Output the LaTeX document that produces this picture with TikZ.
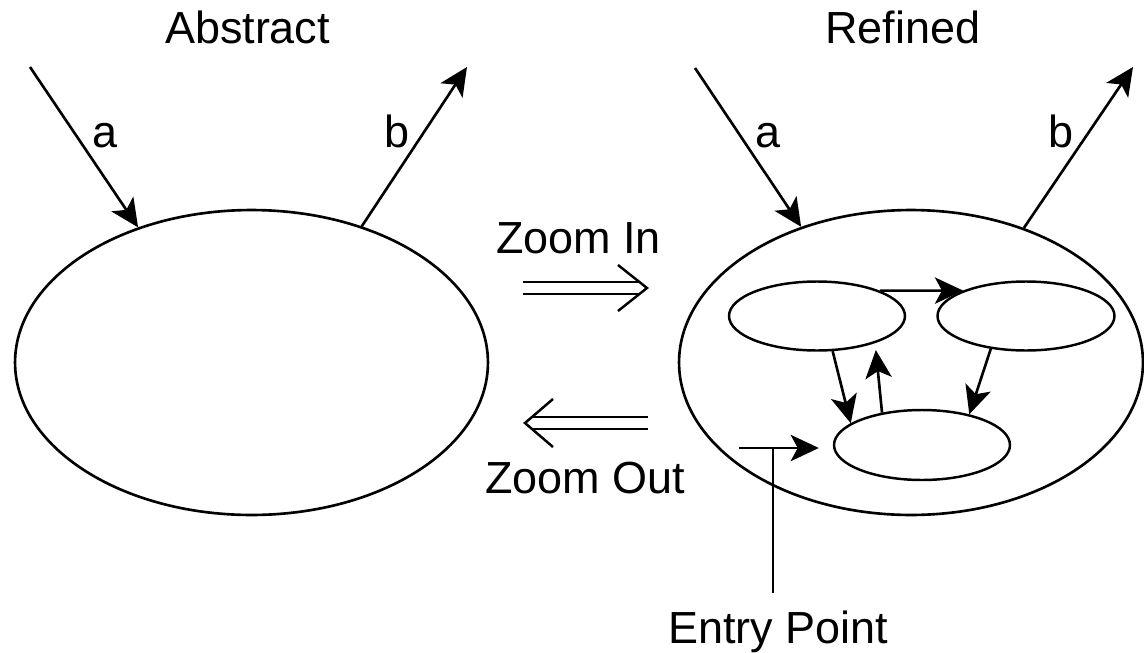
\documentclass[tikz,border=0pt]{standalone}
\usepackage{fontspec}
\setmainfont{Liberation Sans}
\usetikzlibrary{shapes.geometric,arrows.meta}
\begin{document}
\begin{tikzpicture}[x=0.02cm,y=-0.02cm,
  oval/.style={draw,ellipse,inner sep=0pt,line width=1.5pt},
  inoval/.style={draw,ellipse,inner sep=0pt,line width=1.4pt,minimum width=3.52cm,minimum height=1.38cm},
  lbl/.style={anchor=base,inner sep=0pt,font=\fontsize{25.6pt}{30pt}\selectfont},
  conn/.style={line width=1.5pt,-{Stealth[length=16pt,width=15pt,inset=4pt]}},
  plain/.style={line width=1.5pt},
  zoomarrow/.style={double,double distance=5.4pt,line width=1.4pt},
  chev/.style={line width=1.4pt,line join=miter},
]
\useasboundingbox (0,0) rectangle (1144,653);

% titles
\node[lbl] (tabs) at (247.5,43) {Abstract};
\node[lbl] (tref) at (903,43) {Refined};

% outer ellipses
\node[oval,minimum width=9.46cm,minimum height=6.1cm] (L) at (251.5,362.5) {};
\node[oval,minimum width=9.28cm,minimum height=6.1cm] (R) at (911,362.5) {};

% inner ellipses
\node[inoval] (E1) at (817,316) {};
\node[inoval,minimum width=3.54cm] (E2) at (1026,316) {};
\node[inoval,minimum height=1.40cm] (E3) at (922,445) {};

% external arrows
\coordinate (la) at (30,67);
\coordinate (lb) at (467,67);
\coordinate (ra) at (695,68);
\coordinate (rb) at (1133,67);
\draw[conn] (la) -- (L.130);
\draw[conn] (L.51) -- (lb);
\draw[conn] (ra) -- (R.129);
\draw[conn] (R.50) -- (rb);
\node[lbl] (lal) at (105,147) {a};
\node[lbl] (lbl) at (397,147) {b};
\node[lbl] (ral) at (768,147) {a};
\node[lbl] (rbl) at (1061,147) {b};

% inner arrows
\draw[conn] (E1.22) -- (E2.158);
\draw[conn] (E1.294) -- (E3.163);
\draw[conn,shorten >=0.14cm] (E3.141) -- (E1.335);
\draw[conn] (E2.223) -- (E3.33);

% entry point
\coordinate (es) at (739,448);
\coordinate (ej) at (773,448);
\draw[conn,shorten >=0.28cm] (es) -- (es -| E3.west);
\node[lbl] (ept) at (778,643) {Entry Point};
\draw[plain,shorten >=0.34cm] (ej) -- (ej |- ept.north);

% zoom arrows
\node[lbl] (tzin) at (578.5,253) {Zoom In};
\node[lbl] (tzout) at (585,493) {Zoom Out};
\coordinate (zi1) at (523,288);
\coordinate (zi2) at (647,288);
\draw[zoomarrow] (zi1) -- ([xshift=-0.16cm]zi2);
\draw[chev] ([shift={(-29,-23)}]zi2) -- (zi2) -- ([shift={(-29,23)}]zi2);
\coordinate (zo1) at (648,423);
\coordinate (zo2) at (525,423);
\draw[zoomarrow] (zo1) -- ([xshift=0.16cm]zo2);
\draw[chev] ([shift={(28,-24)}]zo2) -- (zo2) -- ([shift={(28,24)}]zo2);
\end{tikzpicture}
\end{document}
